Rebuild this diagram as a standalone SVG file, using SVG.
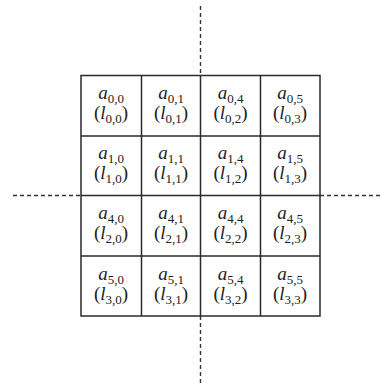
<svg xmlns="http://www.w3.org/2000/svg" width="381" height="388" viewBox="0 0 381 388">
<style>
.grid{fill:none;stroke:#2a2a2a;stroke-width:1.5}
.dash{stroke:#333;stroke-width:1.4;stroke-dasharray:4 3;fill:none}
text{font-family:"Liberation Serif","Times New Roman",serif;font-size:19px;fill:#222;text-anchor:middle}
.v{font-style:italic}
.s{font-size:13px;font-style:normal}
</style>
<rect width="381" height="388" fill="#fff"/>
<g id="connectors">
<line class="dash" x1="200.5" y1="6" x2="200.5" y2="75"/>
<line class="dash" x1="200.5" y1="316" x2="200.5" y2="386"/>
<line class="dash" x1="13" y1="195.5" x2="81" y2="195.5"/>
<line class="dash" x1="320" y1="195.5" x2="381" y2="195.5"/>
</g>
<g id="grid">
<rect class="grid" x="81" y="75.5" width="239" height="240.5"/>
<line class="grid" x1="141.5" y1="75.5" x2="141.5" y2="316"/>
<line class="grid" x1="200.5" y1="75.5" x2="200.5" y2="316"/>
<line class="grid" x1="260.5" y1="75.5" x2="260.5" y2="316"/>
<line class="grid" x1="81" y1="136" x2="320" y2="136"/>
<line class="grid" x1="81" y1="195.5" x2="320" y2="195.5"/>
<line class="grid" x1="81" y1="256" x2="320" y2="256"/>
</g>
<g id="n00"><text x="111" y="99"><tspan class="v">a</tspan><tspan class="s" dy="4">0,0</tspan></text><text x="111" y="119">(<tspan class="v">l</tspan><tspan class="s" dy="4">0,0</tspan><tspan dy="-4">)</tspan></text></g>
<g id="n01"><text x="171" y="99"><tspan class="v">a</tspan><tspan class="s" dy="4">0,1</tspan></text><text x="171" y="119">(<tspan class="v">l</tspan><tspan class="s" dy="4">0,1</tspan><tspan dy="-4">)</tspan></text></g>
<g id="n04"><text x="230.5" y="99"><tspan class="v">a</tspan><tspan class="s" dy="4">0,4</tspan></text><text x="230.5" y="119">(<tspan class="v">l</tspan><tspan class="s" dy="4">0,2</tspan><tspan dy="-4">)</tspan></text></g>
<g id="n05"><text x="290" y="99"><tspan class="v">a</tspan><tspan class="s" dy="4">0,5</tspan></text><text x="290" y="119">(<tspan class="v">l</tspan><tspan class="s" dy="4">0,3</tspan><tspan dy="-4">)</tspan></text></g>

<g id="n10"><text x="111" y="159"><tspan class="v">a</tspan><tspan class="s" dy="4">1,0</tspan></text><text x="111" y="179">(<tspan class="v">l</tspan><tspan class="s" dy="4">1,0</tspan><tspan dy="-4">)</tspan></text></g>
<g id="n11"><text x="171" y="159"><tspan class="v">a</tspan><tspan class="s" dy="4">1,1</tspan></text><text x="171" y="179">(<tspan class="v">l</tspan><tspan class="s" dy="4">1,1</tspan><tspan dy="-4">)</tspan></text></g>
<g id="n14"><text x="230.5" y="159"><tspan class="v">a</tspan><tspan class="s" dy="4">1,4</tspan></text><text x="230.5" y="179">(<tspan class="v">l</tspan><tspan class="s" dy="4">1,2</tspan><tspan dy="-4">)</tspan></text></g>
<g id="n15"><text x="290" y="159"><tspan class="v">a</tspan><tspan class="s" dy="4">1,5</tspan></text><text x="290" y="179">(<tspan class="v">l</tspan><tspan class="s" dy="4">1,3</tspan><tspan dy="-4">)</tspan></text></g>

<g id="n40"><text x="111" y="219"><tspan class="v">a</tspan><tspan class="s" dy="4">4,0</tspan></text><text x="111" y="239">(<tspan class="v">l</tspan><tspan class="s" dy="4">2,0</tspan><tspan dy="-4">)</tspan></text></g>
<g id="n41"><text x="171" y="219"><tspan class="v">a</tspan><tspan class="s" dy="4">4,1</tspan></text><text x="171" y="239">(<tspan class="v">l</tspan><tspan class="s" dy="4">2,1</tspan><tspan dy="-4">)</tspan></text></g>
<g id="n44"><text x="230.5" y="219"><tspan class="v">a</tspan><tspan class="s" dy="4">4,4</tspan></text><text x="230.5" y="239">(<tspan class="v">l</tspan><tspan class="s" dy="4">2,2</tspan><tspan dy="-4">)</tspan></text></g>
<g id="n45"><text x="290" y="219"><tspan class="v">a</tspan><tspan class="s" dy="4">4,5</tspan></text><text x="290" y="239">(<tspan class="v">l</tspan><tspan class="s" dy="4">2,3</tspan><tspan dy="-4">)</tspan></text></g>

<g id="n50"><text x="111" y="280"><tspan class="v">a</tspan><tspan class="s" dy="4">5,0</tspan></text><text x="111" y="300">(<tspan class="v">l</tspan><tspan class="s" dy="4">3,0</tspan><tspan dy="-4">)</tspan></text></g>
<g id="n51"><text x="171" y="280"><tspan class="v">a</tspan><tspan class="s" dy="4">5,1</tspan></text><text x="171" y="300">(<tspan class="v">l</tspan><tspan class="s" dy="4">3,1</tspan><tspan dy="-4">)</tspan></text></g>
<g id="n54"><text x="230.5" y="280"><tspan class="v">a</tspan><tspan class="s" dy="4">5,4</tspan></text><text x="230.5" y="300">(<tspan class="v">l</tspan><tspan class="s" dy="4">3,2</tspan><tspan dy="-4">)</tspan></text></g>
<g id="n55"><text x="290" y="280"><tspan class="v">a</tspan><tspan class="s" dy="4">5,5</tspan></text><text x="290" y="300">(<tspan class="v">l</tspan><tspan class="s" dy="4">3,3</tspan><tspan dy="-4">)</tspan></text></g>
</svg>
